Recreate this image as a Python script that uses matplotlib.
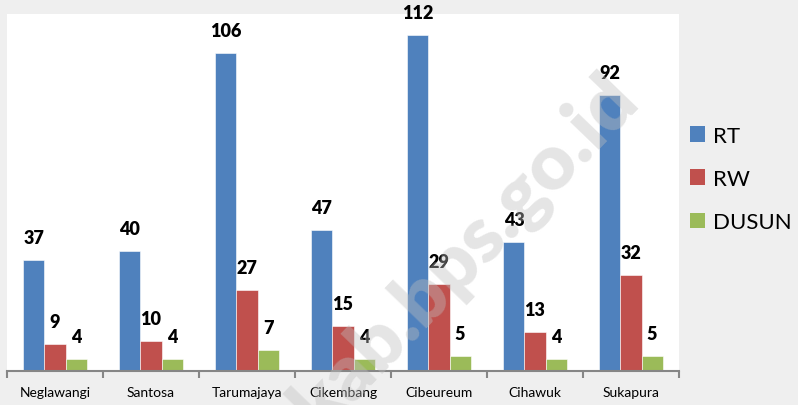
import numpy as np
import matplotlib
matplotlib.use("Agg")
import matplotlib.pyplot as plt
from matplotlib.patches import Patch

# Data
villages = ["Neglawangi", "Santosa", "Tarumajaya", "Cikembang", "Cibeureum", "Cihawuk", "Sukapura"]
rt = [37, 40, 106, 47, 112, 43, 92]
rw = [9, 10, 27, 15, 29, 13, 32]
dusun = [4, 4, 7, 4, 5, 4, 5]
series_names = ["RT", "RW", "DUSUN"]

colors = ["#4f81bd", "#c0504d", "#9bbb59"]
bg = "#efefef"
plt.rcParams["font.family"] = ["Lato", "DejaVu Sans"]

W, H = 798, 406
fig = plt.figure(figsize=(W / 100, H / 100), dpi=100, facecolor=bg)
# plot area in pixels: x 7..679, y 15..372
ax = fig.add_axes([7 / W, (H - 372) / H, 672 / W, (372 - 15) / H])
ax.set_facecolor("white")

x = np.arange(len(villages))
bw = 0.219
for k, vals in enumerate([rt, rw, dusun]):
    pos = x + (k - 1) * bw
    ax.bar(pos, vals, width=bw, color=colors[k], edgecolor="white", linewidth=0.4,
           label=series_names[k], zorder=2)
    for px, v in zip(pos, vals):
        ax.annotate(str(v), (px, v), xytext=(0, 12.5), textcoords="offset points",
                    ha="center", va="baseline", fontsize=13, fontweight="heavy",
                    color="black", annotation_clip=False)

ax.set_xlim(-0.5, len(villages) - 0.5)
ax.set_ylim(0, 119)
for s in ["top", "right", "left"]:
    ax.spines[s].set_visible(False)
ax.spines["bottom"].set_color("#868686")
ax.spines["bottom"].set_linewidth(1.5)
ax.set_yticks([])
ax.set_xticks(x)
ax.set_xticklabels(villages, fontsize=10)
ax.tick_params(axis="x", which="major", length=0, pad=11)
ax.set_xticks(np.arange(len(villages) + 1) - 0.5, minor=True)
ax.tick_params(axis="x", which="minor", length=5, width=1.5, color="#868686")

handles = [Patch(facecolor=c, edgecolor="none") for c in colors]
fig.legend(handles, series_names, loc="center left", bbox_to_anchor=(681 / W, 1 - 180 / H),
           frameon=False, fontsize=16, handlelength=0.7, handleheight=0.7,
           handletextpad=0.35, labelspacing=1.05, borderaxespad=0)

# watermark
fig.text(600 / W, 1 - 62 / H, "bandungkab.bps.go.id", fontsize=56, fontweight="heavy",
         color="#bfbfbf", alpha=0.4, rotation=46, rotation_mode="anchor",
         ha="right", va="top", zorder=10)

fig.savefig("out.png", dpi=100, facecolor=bg)
